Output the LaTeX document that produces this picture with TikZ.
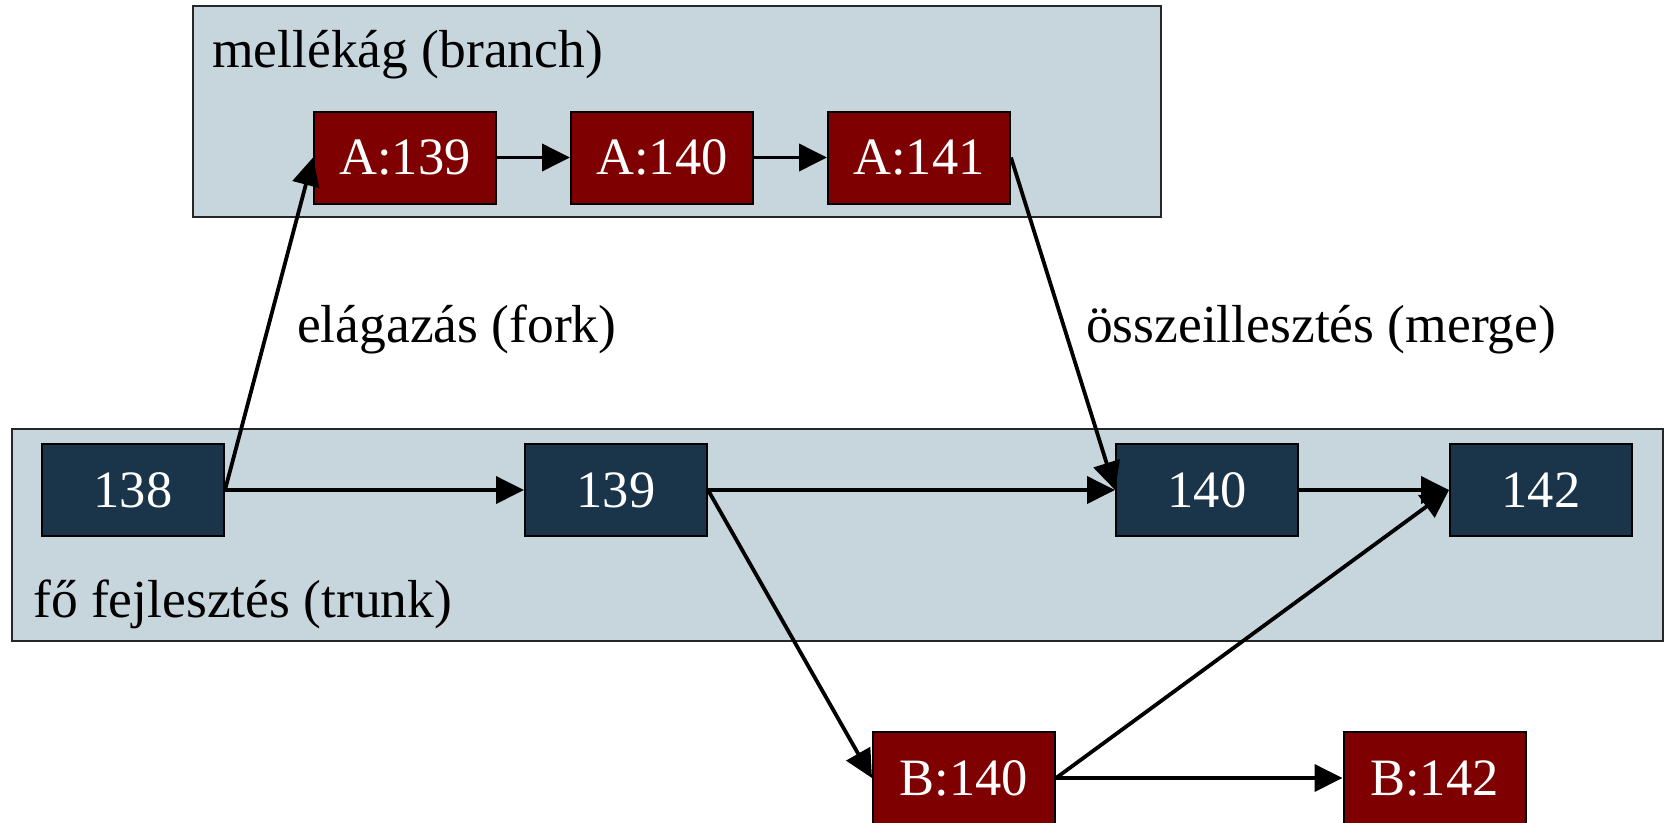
\documentclass[tikz,border=0pt]{standalone}
\usepackage{fontspec}
\setmainfont{Liberation Serif}
\usetikzlibrary{arrows.meta}
\definecolor{panelc}{HTML}{C7D5DD}
\definecolor{trunkc}{HTML}{1A3549}
\definecolor{branchc}{HTML}{7F0000}
\begin{document}
\begin{tikzpicture}[x=1pt,y=-1pt,
  panel/.style={draw=black!85, line width=2pt, fill=panelc, inner sep=0pt},
  rev/.style={draw=black, line width=2pt, minimum width=182pt, minimum height=92pt, inner sep=0pt, text=white, font=\fontsize{52.5}{60}\selectfont},
  trunkrev/.style={rev, fill=trunkc},
  branchrev/.style={rev, fill=branchc},
  lbl/.style={anchor=base west, inner sep=0pt, font=\fontsize{53.5}{60}\selectfont},
  link/.style={-{Triangle[length=28pt,width=27pt]}, line width=3.8pt}]
\useasboundingbox (0,0) rectangle (1664,822);
% panels
\node[panel, minimum width=968pt, minimum height=211pt] (branchpanel) at (677,111.5) {};
\node[panel, minimum width=1651pt, minimum height=212pt] (trunkpanel) at (837.5,535) {};
\node[lbl] (branchlbl) at (212,67) {mellékág (branch)};
\node[lbl] (trunklbl) at (33,617) {fő fejlesztés (trunk)};
% revisions
\node[trunkrev] (n138) at (133,490) {138};
\node[trunkrev] (n139) at (616,490) {139};
\node[trunkrev] (n140) at (1207,490) {140};
\node[trunkrev] (n142) at (1541,490) {142};
\node[branchrev] (a139) at (405,157.5) {A:139};
\node[branchrev] (a140) at (662,157.5) {A:140};
\node[branchrev] (a141) at (919,157.5) {A:141};
\node[branchrev] (b140) at (964,778) {B:140};
\node[branchrev] (b142) at (1434.5,778) {B:142};
% edge labels
\node[lbl] (forklbl) at (297,342) {elágazás (fork)};
\node[lbl] (mergelbl) at (1086,342) {összeillesztés (merge)};
% connectors
\draw[link] (n138.east) -- (n139.west);
\draw[link] (n138.east) -- (a139.west);
\draw[link] (a139.east) -- (a140.west);
\draw[link] (a140.east) -- (a141.west);
\draw[link] (a141.east) -- (n140.west);
\draw[link] (n139.east) -- (n140.west);
\draw[link] (n139.east) -- (b140.west);
\draw[link] (n140.east) -- (n142.west);
\draw[link] (b140.east) -- (n142.west);
\draw[link] (b140.east) -- (b142.west);
\end{tikzpicture}
\end{document}
